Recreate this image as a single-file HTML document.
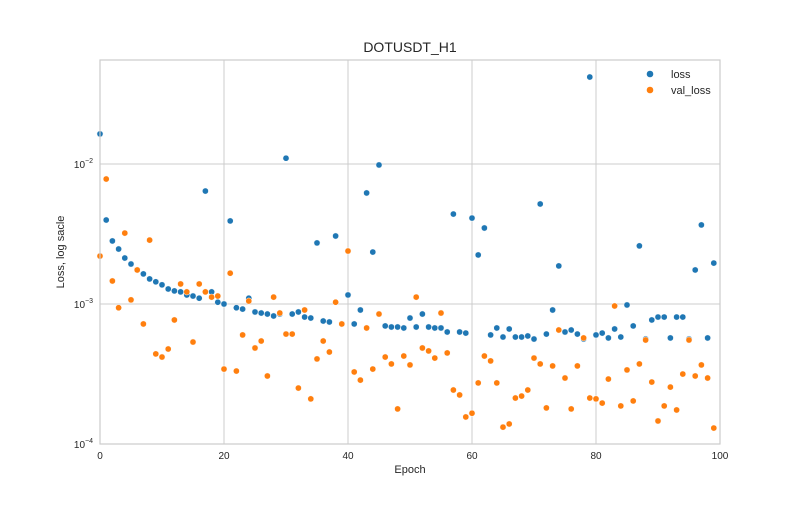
<!DOCTYPE html>
<html><head><meta charset="utf-8"><style>
body{margin:0;background:#fff;font-family:"Liberation Sans",sans-serif}
svg text{font-family:"Liberation Sans",sans-serif;fill:#262626}
</style></head><body>
<svg id="chart" width="800" height="500" xmlns="http://www.w3.org/2000/svg">
<rect width="800" height="500" fill="#fff"/>
<text x="410" y="52" font-size="14" text-anchor="middle">DOTUSDT_H1</text>
<g id="grid"></g>
<g id="ticks"></g>
<g id="marks"></g>
<rect x="100" y="60" width="620" height="384" fill="none" stroke="#ccc" stroke-width="1.2"/>
<text x="410" y="473" font-size="11" text-anchor="middle">Epoch</text>
<text transform="translate(64,252) rotate(-90)" font-size="11" text-anchor="middle">Loss, log sacle</text>
<g>
<circle cx="650" cy="74" r="3.3" fill="#1f77b4"/>
<text x="671" y="78" font-size="11">loss</text>
<circle cx="650" cy="90" r="3.3" fill="#ff7f0e"/>
<text x="671" y="94" font-size="11">val_loss</text>
</g>
</svg>
<script>
const xTicks = [0, 20, 40, 60, 80, 100];
const yTickExps = [-4, -3, -2];
const loss = [16.4,3.98,2.82,2.47,2.13,1.93,1.75,1.64,1.51,1.44,1.37,1.28,1.24,1.22,1.16,1.14,1.10,6.41,1.22,1.03,1.0,3.92,0.94,0.92,1.10,0.877,0.862,0.848,0.821,0.848,11.0,0.848,0.877,0.807,0.794,2.73,0.756,0.744,3.06,0.72,1.16,0.72,0.906,6.21,2.35,9.84,0.697,0.685,0.685,0.674,0.794,0.685,0.848,0.685,0.674,0.674,0.631,4.39,0.631,0.62,4.11,2.24,3.49,0.601,0.674,0.581,0.663,0.581,0.581,0.591,0.562,5.18,0.61,0.906,1.87,0.631,0.652,0.61,0.562,41.8,0.601,0.62,0.572,0.663,0.581,0.984,0.697,2.6,0.562,0.769,0.807,0.807,0.572,0.807,0.807,0.562,1.75,3.67,0.572,1.96].map(v=>v*1e-3);
const valLoss = [2.2,7.81,1.46,0.94,3.21,1.07,1.75,0.72,2.86,0.44,0.418,0.477,0.769,1.39,1.22,0.535,1.39,1.22,1.12,1.14,0.343,1.66,0.332,0.601,1.05,0.485,0.544,0.306,1.12,0.862,0.61,0.61,0.251,0.906,0.21,0.405,0.544,0.454,1.03,0.72,2.39,0.327,0.286,0.674,0.343,0.848,0.418,0.373,0.178,0.425,0.367,1.12,0.485,0.462,0.411,0.862,0.447,0.243,0.224,0.156,0.166,0.273,0.425,0.392,0.273,0.132,0.139,0.213,0.22,0.243,0.411,0.373,0.181,0.361,0.652,0.296,0.178,0.361,0.572,0.213,0.21,0.196,0.291,0.968,0.187,0.338,0.203,0.373,0.553,0.277,0.146,0.187,0.255,0.175,0.316,0.553,0.306,0.367,0.296,0.13].map(v=>v*1e-3);

const NS='http://www.w3.org/2000/svg';
const X0=100,X1=720,Y0=60,Y1=444;
const xScale=e=>X0+(e-0)/(100-0)*(X1-X0);
const yScale=v=>Y1-(Math.log10(v)+4)*140;
function mk(tag,attrs,parent){const el=document.createElementNS(NS,tag);for(const k in attrs)el.setAttribute(k,attrs[k]);parent.appendChild(el);return el;}
const grid=document.getElementById('grid'),ticks=document.getElementById('ticks'),marks=document.getElementById('marks');
xTicks.forEach(t=>{
  const x=xScale(t);
  const l=mk('line',{x1:x,x2:x,y1:Y0,y2:Y1,stroke:'#ccc','stroke-width':1},grid);
  
  
  const tx=mk('text',{x:x,y:459,'font-size':10,'text-anchor':'middle'},ticks);
  tx.textContent=t;
  
  
});
yTickExps.forEach(e=>{
  const y=yScale(Math.pow(10,e));
  const l=mk('line',{x1:X0,x2:X1,y1:y,y2:y,stroke:'#ccc','stroke-width':1},grid);
  
  
  const tx=mk('text',{x:93,y:y+4,'font-size':10,'text-anchor':'end'},ticks);
  
  
  const a=mk('tspan',{},tx);a.textContent='10';
  const b=mk('tspan',{dy:-5,'font-size':7},tx);b.textContent='\u2212'+(-e);
});
function series(data,color,name){
  data.forEach((v,i)=>{
    const c=mk('circle',{cx:xScale(i),cy:yScale(v),r:3.1,fill:color,stroke:'#fff','stroke-width':0.5},marks);
    
    
  });
}
series(loss,'#1f77b4','loss');
series(valLoss,'#ff7f0e','val-loss');
</script>
</body></html>
